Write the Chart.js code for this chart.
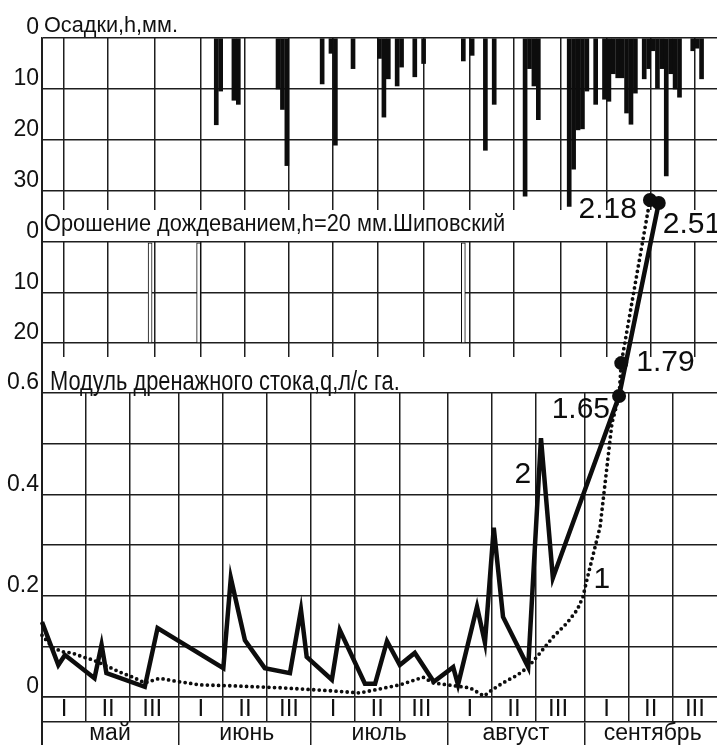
<!DOCTYPE html>
<html>
<head>
<meta charset="utf-8">
<script src="https://cdn.jsdelivr.net/npm/chart.js@4.4.1/dist/chart.umd.min.js"></script>
<style>
  body { margin: 0; background: #fff; }
  #wrap { position: relative; width: 717px; height: 745px; overflow: hidden; background: #fff; }
  #wrap canvas { position: absolute; left: 0; }
  .ttl { position: absolute; white-space: nowrap; color: #111; line-height: 1; transform-origin: 0 0; z-index: 3;
         font-family: 'Liberation Sans', Arial, sans-serif; }
  #axisLine { position: absolute; left: 41px; top: 38px; width: 2px; height: 707px; background: #1e1e1e; }
</style>
</head>
<body>
<div id="wrap">
  <div id="axisLine"></div>
  <canvas id="rain" width="717" height="212" style="top:0;z-index:1"></canvas>
  <canvas id="irr" width="717" height="147" style="top:212px;z-index:1"></canvas>
  <canvas id="flow" width="717" height="745" style="top:0;z-index:2"></canvas>
  <div class="ttl" id="t1" style="left:44px;top:14px;font-size:22px">Осадки,h,мм.</div>
  <div class="ttl" id="t2" style="left:44px;top:211px;font-size:24px">Орошение дождеванием,h=20 мм.Шиповский</div>
  <div class="ttl" id="t3" style="left:50px;top:368px;font-size:27px">Модуль дренажного стока,q,л/с га.</div>
</div>
<script>
var FONT = "'Liberation Sans', Arial, sans-serif";
var GRID = '#1e1e1e';
var GW = 1.5;
var INK = '#0d0d0d';

// day 0 = 1 May, axis ends at day 153 (end of September)
var decadeDays = [0, 10, 20, 31, 41, 51, 61, 71, 81, 92, 102, 112, 123, 133, 143];
var decadeLabels = ['I', 'II', 'III', 'I', 'II', 'III', 'I', 'II', 'III', 'I', 'II', 'III', 'I', 'II', 'III'];
var monthDays = [0, 31, 61, 92, 123];
var monthLabels = ['май', 'июнь', 'июль', 'август', 'сентябрь'];

var rainTicks = [0, 10, 20, 30];
var irrTicks = [0, 10, 20];
var qTicks = [0, 0.1, 0.2, 0.3, 0.4, 0.5, 0.6];
var qTickLabels = ['0', '', '0.2', '', '0.4', '', '0.6'];

// daily precipitation, mm
var rainDay = [39, 40, 43, 44, 53, 54, 55, 63, 65, 66, 70, 76, 77, 78, 80, 81, 84, 86, 95, 97, 100, 102,
  109, 110, 111, 112, 119, 120, 121, 122, 123, 125, 127, 128, 129, 130, 131, 132, 133, 134,
  136, 137, 138, 139, 140, 141, 142, 143, 144, 147, 148, 149];
var rainMm = [17, 10.4, 12.2, 13, 10, 14, 25, 9, 3, 21, 6, 4, 15.5, 8, 9.4, 5.7, 7.6, 5, 4.5, 3.4, 22, 13,
  31, 6, 9.4, 16, 33, 25.7, 18, 17.8, 10.4, 13, 12, 12.4, 7, 7.8, 7.8, 14.7, 16.9, 10.8,
  8, 6, 2.5, 9.8, 6, 27, 7, 10, 11.6, 2.5, 2, 8];

// sprinkler irrigation, mm
var irrDay = [24, 35, 95];
var irrMm = [20, 20, 20];

// drainage runoff module q, l/s ha  (curve 2 - solid, curve 1 - dotted)
var s2Day = [0, 3.7, 5.2, 11.9, 13.5, 14.6, 23.3, 26.2, 41.1, 42.8, 46.0, 50.5, 56.2, 58.7, 60.0, 65.7,
  67.5, 73.2, 75.5, 78.2, 81.1, 84.5, 88.8, 93.2, 94.3, 98.6, 100.4, 102.4, 104.5, 110.2, 113.1, 115.8,
  130.8, 139.8];
var s2Q = [0.148, 0.063, 0.083, 0.037, 0.103, 0.047, 0.020, 0.136, 0.057, 0.235, 0.112, 0.057, 0.047, 0.172, 0.079, 0.034,
  0.132, 0.026, 0.026, 0.110, 0.063, 0.087, 0.030, 0.059, 0.024, 0.178, 0.107, 0.334, 0.158, 0.059, 0.511, 0.235,
  0.594, 0.975];
var s1Day = [0, 2.5, 4.8, 6.8, 9.3, 11.6, 14.7, 17.7, 20.6, 23.3, 26.7, 29.7, 35.8, 43.3, 54.6, 66,
  72, 76.6, 81.1, 86.4, 88.6, 91.8, 97, 98.6, 100.2, 102, 104.5, 107.7, 110.2, 112.9, 115.8, 119,
  121.3, 122.6, 123.5, 126.5, 129.2, 130.8, 131.3, 137.8];
var s1Q = [0.122, 0.097, 0.089, 0.087, 0.079, 0.073, 0.061, 0.049, 0.039, 0.028, 0.037, 0.032, 0.024, 0.022, 0.018, 0.012,
  0.008, 0.016, 0.024, 0.039, 0.028, 0.024, 0.018, 0.010, 0.002, 0.014, 0.028, 0.043, 0.059, 0.087, 0.118, 0.146,
  0.172, 0.197, 0.231, 0.336, 0.541, 0.594, 0.659, 0.981];

// off-scale points with their real values written beside them
var markIdx2 = [32, 33];
var markText2 = ['1.65', '2.51'];
var markIdx1 = [38, 39];
var markText1 = ['1.79', '2.18'];

// curve numbers
var curveTags = ['1', '2'];
var tagDay = [126.9, 109];
var tagQ = [0.231, 0.438];

// where the value text sits relative to its dot
var markStyle2 = [{ align: 'right', dx: -9, dy: 14 }, { align: 'left', dx: 4, dy: 22 }];
var markStyle1 = [{ align: 'left', dx: 15, dy: 0 }, { align: 'right', dx: -13, dy: 10 }];

Chart.defaults.font.family = FONT;
Chart.defaults.color = '#111';

function setTicks(list) {
    return function (axis) {
        axis.ticks = list.map(function (v) { return { value: v }; });
    };
}

function points(xs, ys) {
    return xs.map(function (d, i) { return { x: d, y: ys[i] }; });
}

function marks(idx, text, style) {
    return idx.map(function (k, i) {
        return { index: k, text: text[i], align: style[i].align, dx: style[i].dx, dy: style[i].dy };
    });
}

// fixed axis sizes, no extra room reserved for labels at the ends
function fixWidth(w) {
    return function (a) { a.width = w; a.paddingTop = 0; a.paddingBottom = 0; };
}
function fixHeight(h) {
    return function (a) { a.height = h; a.paddingLeft = 0; a.paddingRight = 0; };
}

function hiddenDayAxis() {
    return {
        type: 'linear', min: 0, max: 153, offset: false,
        afterBuildTicks: setTicks(decadeDays),
        afterFit: fixHeight(0),
        ticks: { display: false },
        grid: { color: GRID, lineWidth: GW, drawTicks: false },
        border: { display: false }
    };
}

function depthAxis(max, list) {
    return {
        reverse: true, min: 0, max: max,
        afterBuildTicks: setTicks(list),
        afterFit: fixWidth(42),
        grid: { color: GRID, lineWidth: GW, drawTicks: false },
        border: { color: GRID, width: GW },
        ticks: { padding: 3, labelOffset: -10, font: { size: 23 }, color: '#111' }
    };
}

var baseOptions = {
    responsive: false,
    animation: false,
    devicePixelRatio: 1,
    events: [],
    plugins: { legend: { display: false }, tooltip: { enabled: false } }
};

new Chart(document.getElementById('rain'), {
    type: 'bar',
    data: {
        datasets: [{
            data: points(rainDay.map(function (d) { return d + 0.5; }), rainMm),
            backgroundColor: INK,
            borderWidth: 0,
            barThickness: 4
        }]
    },
    options: Object.assign({}, baseOptions, {
        layout: { padding: { top: 38, bottom: 2, left: 0, right: 0 } },
        scales: { x: hiddenDayAxis(), y: depthAxis(33.7, rainTicks) }
    })
});

new Chart(document.getElementById('irr'), {
    type: 'bar',
    data: {
        datasets: [{
            data: points(irrDay.map(function (d) { return d + 0.5; }), irrMm),
            backgroundColor: '#fff',
            borderColor: INK,
            borderWidth: 1,
            borderSkipped: false,
            barThickness: 4
        }]
    },
    options: Object.assign({}, baseOptions, {
        layout: { padding: { top: 30, bottom: 2, left: 0, right: 0 } },
        scales: { x: hiddenDayAxis(), y: depthAxis(22.8, irrTicks) }
    })
});

// dots and value texts for the marked points (some lie above the plot area), curve numbers
var notesPlugin = {
    id: 'notes',
    afterDatasetsDraw: function (chart) {
        var ctx = chart.ctx;
        ctx.save();
        ctx.fillStyle = INK;
        ctx.font = '30px ' + FONT;
        ctx.textBaseline = 'middle';
        chart.data.datasets.forEach(function (ds, di) {
            var meta = chart.getDatasetMeta(di);
            (ds.marks || []).forEach(function (m) {
                var pt = meta.data[m.index];
                ctx.beginPath();
                ctx.arc(pt.x, pt.y, 7, 0, Math.PI * 2);
                ctx.fill();
                ctx.textAlign = m.align;
                ctx.fillText(m.text, pt.x + m.dx, pt.y + m.dy);
            });
        });
        var xs = chart.scales.x, ys = chart.scales.y;
        ctx.textAlign = 'center';
        curveTags.forEach(function (t, k) {
            ctx.fillText(t, xs.getPixelForValue(tagDay[k]), ys.getPixelForValue(tagQ[k]));
        });
        ctx.restore();
    }
};

new Chart(document.getElementById('flow'), {
    type: 'line',
    data: {
        datasets: [{
            data: points(s2Day, s2Q),
            borderColor: INK,
            borderWidth: 4.5,
            tension: 0,
            clip: false,
            pointRadius: 0,
            marks: marks(markIdx2, markText2, markStyle2)
        }, {
            data: points(s1Day, s1Q),
            borderColor: INK,
            borderWidth: 3.8,
            borderDash: [0, 5.6],
            borderCapStyle: 'round',
            tension: 0,
            clip: false,
            pointRadius: 0,
            marks: marks(markIdx1, markText1, markStyle1)
        }]
    },
    options: Object.assign({}, baseOptions, {
        layout: { padding: { top: 393, bottom: 0, left: 0, right: 0 } },
        scales: {
            x: {
                type: 'linear', position: 'bottom', weight: 0, min: 0, max: 153, offset: false,
                afterBuildTicks: setTicks(decadeDays),
                afterFit: fixHeight(25),
                grid: { color: GRID, lineWidth: GW, drawTicks: true, tickLength: 25, tickColor: GRID },
                border: { color: GRID, width: GW },
                ticks: {
                    autoSkip: false, maxRotation: 0, minRotation: 0,
                    padding: -27, labelOffset: 22, font: { size: 24 }, color: '#111',
                    callback: function (v, i) { return decadeLabels[i]; }
                }
            },
            xm: {
                type: 'linear', position: 'bottom', weight: 1, min: 0, max: 153, offset: false,
                afterBuildTicks: setTicks(monthDays),
                afterFit: fixHeight(23),
                grid: { drawOnChartArea: false, drawTicks: true, tickLength: 25, tickColor: GRID, lineWidth: GW },
                border: { color: GRID, width: GW },
                ticks: {
                    autoSkip: false, maxRotation: 0, minRotation: 0,
                    padding: -27, labelOffset: 68, font: { size: 23 }, color: '#111',
                    callback: function (v, i) { return monthLabels[i]; }
                }
            },
            y: {
                min: 0, max: 0.6,
                afterBuildTicks: setTicks(qTicks),
                afterFit: fixWidth(42),
                grid: { color: GRID, lineWidth: GW, drawTicks: false },
                border: { color: GRID, width: GW },
                ticks: {
                    padding: 3, labelOffset: -10, font: { size: 23 }, color: '#111',
                    callback: function (v, i) { return qTickLabels[i]; }
                }
            }
        }
    }),
    plugins: [notesPlugin]
});

// panel captions stretched to the width they take in the original figure
[['t1', 134], ['t2', 461], ['t3', 350]].forEach(function (p) {
    var el = document.getElementById(p[0]);
    el.style.transform = 'scaleX(' + (p[1] / el.offsetWidth) + ')';
});
</script>
</body>
</html>
